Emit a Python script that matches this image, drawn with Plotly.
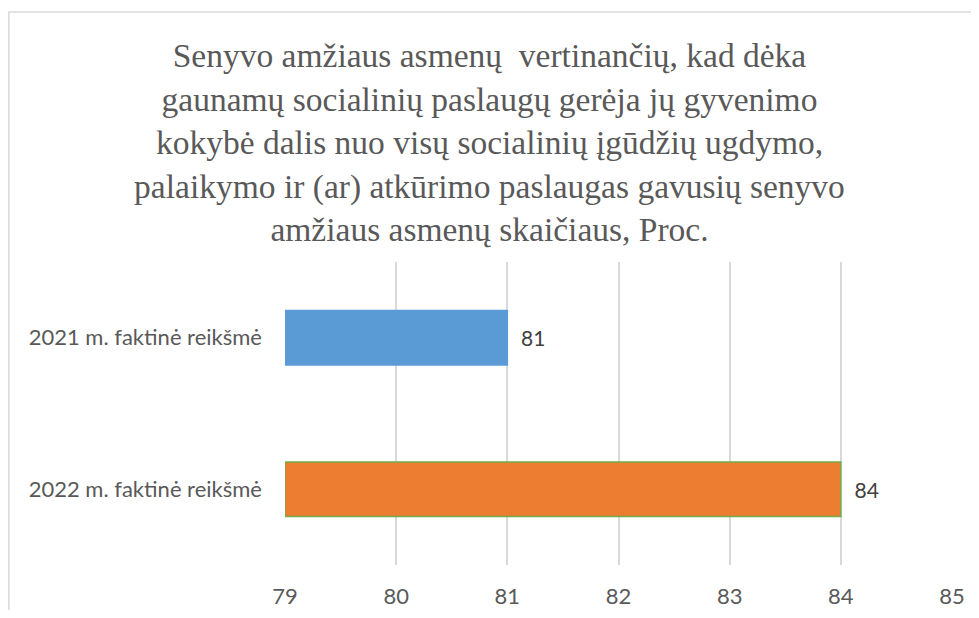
import plotly.graph_objects as go

categories = ["2022 m. faktinė reikšmė", "2021 m. faktinė reikšmė"]
values = [84, 81]
bar_colors = ["#ED7D31", "#5B9BD5"]
line_colors = ["#70AD47", "#5B9BD5"]
x_ticks = [79, 80, 81, 82, 83, 84, 85]

title_lines = [
    "Senyvo amžiaus asmenų  vertinančių, kad dėka",
    "gaunamų socialinių paslaugų gerėja jų gyvenimo",
    "kokybė dalis nuo visų socialinių įgūdžių ugdymo,",
    "palaikymo ir (ar) atkūrimo paslaugas gavusių senyvo",
    "amžiaus asmenų skaičiaus, Proc.",
]

fig = go.Figure()

fig.add_trace(
    go.Bar(
        y=categories,
        x=[v - x_ticks[0] for v in values],
        base=x_ticks[0],
        orientation="h",
        width=0.36,
        marker=dict(color=bar_colors, line=dict(color=line_colors, width=1.5)),
        text=["\u00a0\u00a0" + str(v) for v in values],
        textposition="outside",
        textfont=dict(family="Lato", size=21, color="#404040"),
        cliponaxis=False,
        hoverinfo="skip",
    )
)

# the page body adds 8px around the plot div, so the figure is 16px smaller
fig.update_layout(
    width=963,
    height=602,
    margin=dict(l=277, r=19, t=254, b=45),
    paper_bgcolor="white",
    plot_bgcolor="white",
    showlegend=False,
    title=dict(
        text="<br>".join(title_lines),
        font=dict(family="Liberation Serif", size=33.5, color="#595959"),
        x=0.5,
        xanchor="center",
        y=1 - 59 / 602,
        yanchor="top",
        yref="container",
        automargin=False,
    ),
    xaxis=dict(
        range=[79, 85],
        tickvals=x_ticks,
        showgrid=True,
        gridcolor="#D9D9D9",
        gridwidth=1.5,
        zeroline=False,
        showline=False,
        ticks="",
        automargin=False,
        ticklabelstandoff=16,
        tickfont=dict(family="Lato", size=22, color="#595959"),
    ),
    yaxis=dict(
        showgrid=False,
        showline=False,
        ticks="",
        automargin=False,
        ticklabelstandoff=22,
        tickfont=dict(family="Lato", size=22, color="#595959"),
    ),
    shapes=[
        dict(
            type="rect", xref="paper", yref="paper",
            x0=-0.414, x1=1.2, y0=-0.5, y1=1.825,
            line=dict(color="#D9D9D9", width=1.5),
            fillcolor="rgba(0,0,0,0)", layer="below",
        )
    ],
)

fig.write_html("out.html")
